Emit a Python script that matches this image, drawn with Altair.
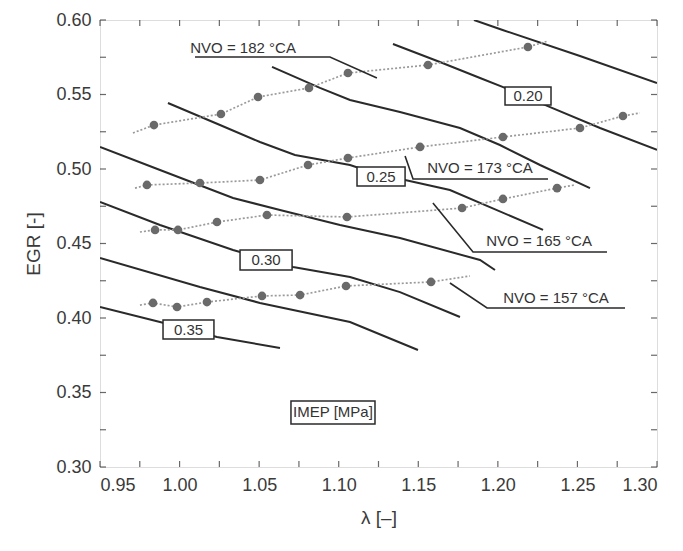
import altair as alt
import pandas as pd

# ---------------- data ----------------
# IMEP iso-lines (MPa)
contour_levels = [0.175, 0.20, 0.225, 0.25, 0.275, 0.30, 0.325, 0.35]
contour_lam = [
    [1.185, 1.203, 1.2516, 1.30],
    [1.1341, 1.1636, 1.1888, 1.2045, 1.234, 1.2642, 1.30],
    [1.0581, 1.0882, 1.1071, 1.1385, 1.1762, 1.2013, 1.2265, 1.2579],
    [0.9927, 1.0254, 1.0505, 1.0725, 1.1071, 1.126, 1.1417, 1.1699, 1.2284],
    [0.95, 0.9877, 1.0336, 1.0631, 1.1008, 1.1385, 1.1888, 1.1982],
    [0.95, 0.9877, 1.0336, 1.0713, 1.1071, 1.1385, 1.1762],
    [0.95, 1.0128, 1.0505, 1.1071, 1.1498],
    [0.95, 0.9877, 1.0235, 1.0631],
]
contour_egr = [
    [0.600, 0.5933, 0.5758, 0.5577],
    [0.5839, 0.5718, 0.5611, 0.5544, 0.541, 0.5275, 0.5128],
    [0.5685, 0.5544, 0.5463, 0.5383, 0.5275, 0.5161, 0.5027, 0.4872],
    [0.5443, 0.5295, 0.5181, 0.5094, 0.5027, 0.496, 0.4926, 0.4859, 0.4591],
    [0.5148, 0.4993, 0.4805, 0.4725, 0.4624, 0.4537, 0.4389, 0.4322],
    [0.4779, 0.4624, 0.4456, 0.4342, 0.4275, 0.4174, 0.4007],
    [0.4403, 0.4208, 0.4101, 0.3973, 0.3785],
    [0.4074, 0.3973, 0.3872, 0.3799],
]

# NVO sweeps: measured points
nvo_names = ["182", "173", "165", "157"]
nvo_lam = [
    [0.9839, 1.026, 1.0493, 1.0813, 1.1058, 1.1561, 1.2189],
    [0.9795, 1.0128, 1.0505, 1.0807, 1.1058, 1.1511, 1.2032, 1.2516, 1.2786],
    [0.9846, 0.999, 1.0235, 1.0549, 1.1052, 1.1775, 1.2032, 1.2372],
    [0.9833, 0.9984, 1.0172, 1.0518, 1.0757, 1.1046, 1.158],
]
nvo_egr = [
    [0.5295, 0.5369, 0.5483, 0.5544, 0.5644, 0.5698, 0.5819],
    [0.4893, 0.4906, 0.4926, 0.5027, 0.5074, 0.5148, 0.5215, 0.5275, 0.5356],
    [0.4591, 0.4591, 0.4644, 0.4691, 0.4678, 0.4738, 0.4799, 0.4872],
    [0.4101, 0.4074, 0.4107, 0.4148, 0.4154, 0.4215, 0.4242],
]
# dotted trend lines extend slightly past the points
nvo_line_start = [(0.9707, 0.5242), (0.972, 0.4872), (0.9751, 0.4577), (0.9751, 0.4087)]
nvo_line_end = [(1.2315, 0.5859), (1.2893, 0.5376), (1.2485, 0.4893), (1.1825, 0.4282)]

# NVO labels: text anchor and leader polyline
nvo_label_text = ["NVO = 182 °CA", "NVO = 173 °CA", "NVO = 165 °CA", "NVO = 157 °CA"]
nvo_label_pos = [(1.0399, 0.5812), (1.1888, 0.5007), (1.2259, 0.4517), (1.2365, 0.4134)]
nvo_leader_lam = [
    [1.0097, 1.0945, 1.124],
    [1.1417, 1.1467, 1.2315],
    [1.1592, 1.1844, 1.2686],
    [1.1699, 1.1932, 1.2799],
]
nvo_leader_egr = [
    [0.5752, 0.5752, 0.5611],
    [0.5087, 0.4933, 0.4933],
    [0.4772, 0.4443, 0.4443],
    [0.4235, 0.4067, 0.4067],
]

# boxed labels
box_text = ["0.20", "0.25", "0.30", "0.35", "IMEP [MPa]"]
box_lam = [(1.2045, 1.2334), (1.1115, 1.1417), (1.038, 1.0707), (0.9896, 1.0216), (1.07, 1.1228)]
box_egr = [(0.555, 0.543), (0.5013, 0.4886), (0.4456, 0.4322), (0.3986, 0.3859), (0.3443, 0.3289)]

x_ticks = [0.95, 1.00, 1.05, 1.10, 1.15, 1.20, 1.25, 1.30]
y_ticks = [0.30, 0.35, 0.40, 0.45, 0.50, 0.55, 0.60]
minor_x = [0.975, 1.025, 1.075, 1.125, 1.175, 1.225, 1.275]
minor_y = [0.325, 0.375, 0.425, 0.475, 0.525, 0.575]

# ---------------- tables ----------------
rows = []
for lev, ls, es in zip(contour_levels, contour_lam, contour_egr):
    for i, (l, e) in enumerate(zip(ls, es)):
        rows.append({"lam": l, "egr": e, "level": lev, "o": i})
contours = pd.DataFrame(rows)

pts, lines = [], []
for k, name in enumerate(nvo_names):
    seq = [nvo_line_start[k]] + list(zip(nvo_lam[k], nvo_egr[k])) + [nvo_line_end[k]]
    for i, (l, e) in enumerate(seq):
        lines.append({"lam": l, "egr": e, "nvo": name, "o": i})
    for l, e in zip(nvo_lam[k], nvo_egr[k]):
        pts.append({"lam": l, "egr": e, "nvo": name})
nvo_pts = pd.DataFrame(pts)
nvo_lines = pd.DataFrame(lines)

lead = []
for k, name in enumerate(nvo_names):
    for i, (l, e) in enumerate(zip(nvo_leader_lam[k], nvo_leader_egr[k])):
        lead.append({"lam": l, "egr": e, "nvo": name, "o": i})
leaders = pd.DataFrame(lead)

nvo_labels = pd.DataFrame({
    "lam": [p[0] for p in nvo_label_pos],
    "egr": [p[1] for p in nvo_label_pos],
    "txt": nvo_label_text,
})

boxes = pd.DataFrame({
    "x1": [b[0] for b in box_lam], "x2": [b[1] for b in box_lam],
    "y1": [b[0] for b in box_egr], "y2": [b[1] for b in box_egr],
    "txt": box_text,
})
boxes["xc"] = (boxes["x1"] + boxes["x2"]) / 2
boxes["yc"] = (boxes["y1"] + boxes["y2"]) / 2

xt = pd.DataFrame({"lam": x_ticks + minor_x, "major": [1] * len(x_ticks) + [0] * len(minor_x)})
yt = pd.DataFrame({"egr": y_ticks + minor_y, "major": [1] * len(y_ticks) + [0] * len(minor_y)})

# ---------------- chart ----------------
FONT = "Liberation Sans"
INK = "#2a2a2a"
xs = alt.Scale(domain=[0.95, 1.30], nice=False, zero=False)
ys = alt.Scale(domain=[0.30, 0.60], nice=False, zero=False)
xax = alt.Axis(values=x_ticks, format=".2f", title="λ [–]", grid=False, ticks=False,
               domain=False, labelFontSize=18, labelColor="#3a3a3a", labelPadding=9,
               titleFontSize=19, titleFontWeight="normal", titleColor="#3a3a3a",
               titlePadding=14, labelFont=FONT, titleFont=FONT)
yax = alt.Axis(values=y_ticks, format=".2f", title="EGR [-]", grid=False, ticks=False,
               domain=False, labelFontSize=18, labelColor="#3a3a3a", labelPadding=9,
               titleFontSize=19, titleFontWeight="normal", titleColor="#3a3a3a",
               titlePadding=12, labelFont=FONT, titleFont=FONT)

X = alt.X("lam:Q", scale=xs, axis=xax)
Y = alt.Y("egr:Q", scale=ys, axis=yax)

contour_layer = alt.Chart(contours).mark_line(color=INK, strokeWidth=2, clip=True).encode(
    x=X, y=Y, detail="level:N", order="o:Q")

dotted = alt.Chart(nvo_lines).mark_line(color="#9a9a9a", strokeWidth=1.7, strokeDash=[2, 2], clip=True).encode(
    x="lam:Q", y="egr:Q", detail="nvo:N", order="o:Q")

markers = alt.Chart(nvo_pts).mark_point(filled=True, color="#6a6a6a", size=75, opacity=1).encode(
    x="lam:Q", y="egr:Q")

leader_layer = alt.Chart(leaders).mark_line(color=INK, strokeWidth=1.6).encode(
    x="lam:Q", y="egr:Q", detail="nvo:N", order="o:Q")

nvo_text = alt.Chart(nvo_labels).mark_text(font=FONT, fontSize=15, color="#333").encode(
    x="lam:Q", y="egr:Q", text="txt:N")

box_rect = alt.Chart(boxes).mark_rect(fill="white", stroke=INK, strokeWidth=1.5).encode(
    x="x1:Q", x2="x2:Q", y="y1:Q", y2="y2:Q")

box_txt = alt.Chart(boxes).mark_text(font=FONT, fontSize=15, color="#333").encode(
    x="xc:Q", y="yc:Q", text="txt:N")

# small inward ticks along the frame
bt = alt.Chart(xt).mark_tick(color=INK, thickness=1.2, size=6, yOffset=-3).encode(
    x="lam:Q", y=alt.value(447))
tt = alt.Chart(xt).mark_tick(color=INK, thickness=1.2, size=6, yOffset=3).encode(
    x="lam:Q", y=alt.value(0))
lt = alt.Chart(yt).mark_tick(color=INK, thickness=1.2, size=6, xOffset=3, orient="horizontal").encode(
    y="egr:Q", x=alt.value(0))
rt = alt.Chart(yt).mark_tick(color=INK, thickness=1.2, size=6, xOffset=-3, orient="horizontal").encode(
    y="egr:Q", x=alt.value(557))

chart = alt.layer(contour_layer, dotted, markers, leader_layer, nvo_text, box_rect, box_txt,
                  bt, tt, lt, rt).properties(
    width=557, height=447,
    autosize=alt.AutoSizeParams(type="none"),
    padding={"left": 92, "top": 12, "right": 18, "bottom": 76},
).configure_view(stroke="#222", strokeWidth=2).configure(background="white")

chart.save("out.html", embed_options={"renderer": "svg", "actions": False})
